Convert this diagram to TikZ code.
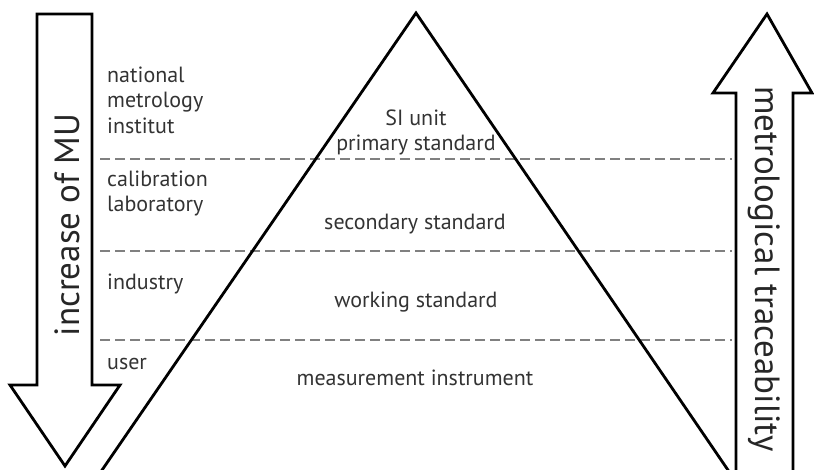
\documentclass[tikz,border=0pt]{standalone}
\usepackage{fontspec}
\setmainfont{PT Sans}
\begin{document}
\begin{tikzpicture}[x=1pt,y=-1pt,
  outline/.style={draw=black,line width=2.8pt,line join=miter,fill=white},
  sep/.style={draw=black!50,line width=2.6pt,dash pattern=on 10pt off 5pt},
  lab/.style={inner sep=0pt,anchor=base west,text=black!80,font=\fontsize{22}{26}\selectfont},
  mid/.style={inner sep=0pt,anchor=base,text=black!80,font=\fontsize{22}{26}\selectfont},
  big/.style={inner sep=0pt,text=black!85,font=\fontsize{35}{40}\selectfont}]
\useasboundingbox (0,0) rectangle (814,470);
% coordinates
\coordinate (apex) at (416,13);
\coordinate (bl) at (100,473);
\coordinate (br) at (730,473);
% dashed separators
\draw[sep] (100,159) -- (732,159);
\draw[sep] (100,251) -- (732,251);
\draw[sep] (100,340) -- (732,340);
% pyramid
\draw[line width=2.8pt,line join=miter] (bl) -- (apex) -- (br);
% left arrow (down)
\draw[outline] (37,14) -- (92,14) -- (92,385) -- (120,385) -- (65,466) -- (10,385) -- (37,385) -- cycle;
\node[big,rotate=90] (mu) at (67,225) {increase of MU};
% right arrow (up)
\draw[outline] (736,480) -- (736,93) -- (713,93) -- (767,14) -- (812,93) -- (793,93) -- (793,480);
\node[big,rotate=-90] (tr) at (764,269) {metrological traceability};
% left labels
\node[lab] (n1) at (107,83) {national};
\node[lab] (n2) at (107,108) {metrology};
\node[lab] (n3) at (107,134) {institut};
\node[lab] (c1) at (107,187) {calibration};
\node[lab] (c2) at (107,212) {laboratory};
\node[lab] (i1) at (107,290) {industry};
\node[lab] (u1) at (107,369) {user};
% pyramid labels
\node[mid] (si) at (416,126) {SI unit};
\node[mid] (ps) at (416,151) {primary standard};
\node[mid] (ss) at (415,230) {secondary standard};
\node[mid] (ws) at (416,308) {working standard};
\node[mid] (mi) at (415,385) {measurement instrument};
\end{tikzpicture}
\end{document}
